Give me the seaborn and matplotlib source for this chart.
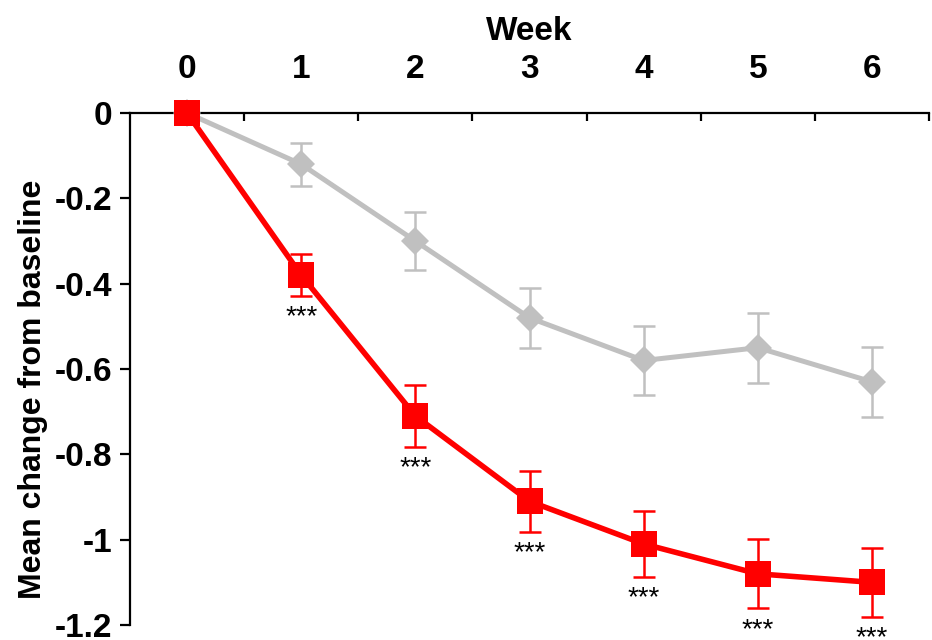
import matplotlib
matplotlib.use("Agg")
import matplotlib.pyplot as plt
import seaborn as sns
import pandas as pd
import numpy as np

# Weekly mean change from baseline with standard errors
weeks = [0, 1, 2, 3, 4, 5, 6]
placebo_mean = [0.0, -0.12, -0.30, -0.48, -0.58, -0.55, -0.63]
placebo_err = [0.0, 0.05, 0.068, 0.07, 0.08, 0.082, 0.082]
active_mean = [0.0, -0.38, -0.71, -0.91, -1.01, -1.08, -1.10]
active_err = [0.0, 0.049, 0.073, 0.072, 0.078, 0.081, 0.081]
significance = ["", "***", "***", "***", "***", "***", "***"]

y_ticks = [0, -0.2, -0.4, -0.6, -0.8, -1.0, -1.2]
y_tick_labels = ["0", "-0.2", "-0.4", "-0.6", "-0.8", "-1", "-1.2"]

sns.set_theme(style="white")
plt.rcParams["font.family"] = ["Liberation Sans", "DejaVu Sans"]
plt.rcParams["font.weight"] = "bold"
for key in ["text.color", "axes.labelcolor", "xtick.color", "ytick.color"]:
    plt.rcParams[key] = "black"

GREY = "#C0C0C0"
RED = "#FF0000"
FS = 24

fig = plt.figure(figsize=(9.32, 6.4), dpi=100)
ax = fig.add_axes([0.1395, 0.0234, 0.8573, 0.80])

df = pd.DataFrame({
    "week": weeks * 2,
    "change": placebo_mean + active_mean,
    "group": ["placebo"] * len(weeks) + ["active"] * len(weeks),
})

# Placebo series
ax.errorbar(weeks, placebo_mean, yerr=placebo_err, fmt="none", ecolor=GREY,
            elinewidth=1.8, capsize=8, capthick=1.8, zorder=2)
sns.lineplot(data=df[df.group == "placebo"], x="week", y="change", ax=ax,
             color=GREY, linewidth=3.6, marker="D", markersize=14.5,
             markeredgewidth=0, legend=False, zorder=3, clip_on=False)

# Active series
ax.errorbar(weeks, active_mean, yerr=active_err, fmt="none", ecolor=RED,
            elinewidth=1.8, capsize=8, capthick=1.8, zorder=4)
sns.lineplot(data=df[df.group == "active"], x="week", y="change", ax=ax,
             color=RED, linewidth=4.0, marker="s", markersize=19,
             markeredgewidth=0, legend=False, zorder=5, clip_on=False)

# Significance markers under the active group's lower whiskers
for w, m, e, s in zip(weeks, active_mean, active_err, significance):
    if s:
        ax.annotate(s, xy=(w, m - e), xytext=(0, -6), textcoords="offset points",
                    ha="center", va="top", fontsize=20, fontweight="normal",
                    color="black", annotation_clip=False)

ax.set_xlim(-0.5, 6.5)
ax.set_ylim(-1.2, 0)

# Week axis on top: labels at integers, tick marks at half-weeks
ax.xaxis.set_ticks_position("top")
ax.xaxis.set_label_position("top")
ax.set_xticks(weeks)
ax.set_xticklabels([str(w) for w in weeks], fontsize=FS, fontweight="bold")
ax.set_xticks(np.arange(0.5, 7.0, 1.0), minor=True)
ax.tick_params(axis="x", which="major", length=0, pad=20)
ax.tick_params(axis="x", which="minor", direction="in", length=6, width=1.6,
               top=True, bottom=False, color="black")
ax.set_xlabel("Week", fontsize=FS, fontweight="bold", labelpad=10)

ax.set_yticks(y_ticks)
ax.set_yticklabels(y_tick_labels, fontsize=FS, fontweight="bold")
ax.tick_params(axis="y", which="major", direction="out", length=7, width=1.6,
               left=True, color="black", pad=6)
ax.set_ylabel("Mean change from baseline", fontsize=23, fontweight="bold")
ax.yaxis.set_label_coords(-0.103, 0.46)

for side in ["bottom", "right"]:
    ax.spines[side].set_visible(False)
for side in ["top", "left"]:
    ax.spines[side].set_visible(True)
    ax.spines[side].set_color("black")
    ax.spines[side].set_linewidth(1.6)

ax.set_facecolor("none")
ax.grid(False)

fig.savefig("out.png", dpi=100)
